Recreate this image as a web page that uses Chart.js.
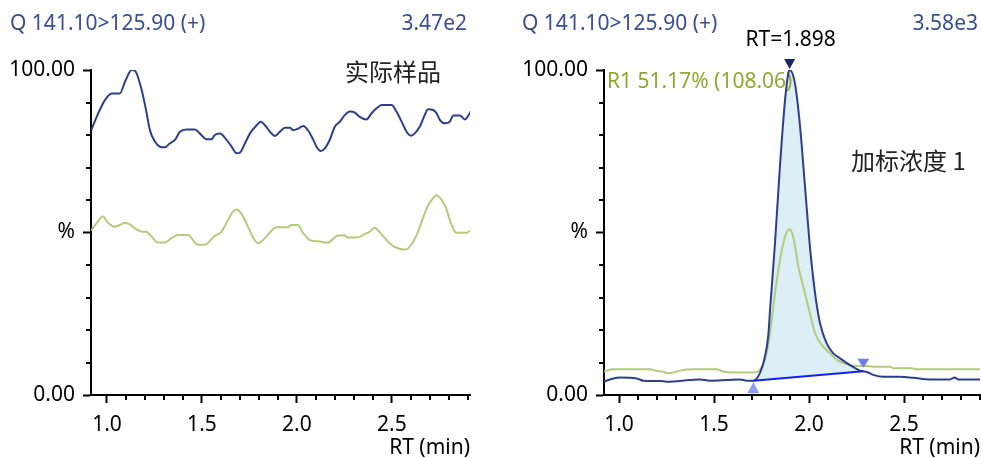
<!DOCTYPE html>
<html><head><meta charset="utf-8">
<script src="https://cdn.jsdelivr.net/npm/chart.js@4.4.1/dist/chart.umd.min.js"></script>
<style>
html,body{margin:0;padding:0;background:#fff;width:981px;height:458px;overflow:hidden;}
.t{position:absolute;white-space:nowrap;font-family:"Noto Sans",sans-serif;font-size:21px;line-height:26px;}
.hdr{color:#3c4d91;}
.cjk{font-family:"Noto Sans CJK SC","Noto Sans",sans-serif;font-size:24px;line-height:30px;color:#222;}
canvas{position:absolute;top:0;}
</style></head><body>
<canvas id="c1" width="490" height="458" style="left:0"></canvas>
<canvas id="c2" width="491" height="458" style="left:490px"></canvas>
<div class="t hdr" style="left:10px;top:9px">Q 141.10&gt;125.90 (+)</div>
<div class="t hdr" style="right:514px;top:9px">3.47e2</div>
<div class="t hdr" style="left:522px;top:9px">Q 141.10&gt;125.90 (+)</div>
<div class="t hdr" style="right:3px;top:9px">3.58e3</div>
<div class="t cjk" style="left:345px;top:56px">实际样品</div>
<div class="t cjk" style="left:851px;top:145px">加标浓度 1</div>
<script>
// ---------- data ----------
const X_MAJOR = [1.0, 1.5, 2.0, 2.5];
const X_MINOR = [1.1,1.2,1.3,1.4,1.6,1.7,1.8,1.9,2.1,2.2,2.3,2.4,2.6,2.7,2.8,2.9];
const Y_MAJOR = [0, 50, 100];
const Y_LABELS = ['0.00', '%', '100.00'];
const Y_MINOR = [10,20,30,40,60,70,80,90];

// left panel (实际样品)
const L_BLUE_X = [0.917,0.946,0.99,1.025,1.068,1.095,1.13,1.147,1.183,1.209,1.226,1.253,1.279,1.305,1.33,1.358,1.384,1.419,1.463,1.489,1.524,1.55,1.568,1.595,1.63,1.656,1.682,1.7,1.726,1.753,1.788,1.809,1.832,1.858,1.884,1.91,1.937,1.963,1.98,2.007,2.033,2.06,2.086,2.103,2.125,2.147,2.174,2.2,2.226,2.253,2.279,2.305,2.33,2.366,2.393,2.419,2.445,2.498,2.524,2.551,2.577,2.6,2.62,2.647,2.673,2.69,2.717,2.735,2.753,2.78,2.805,2.823,2.858,2.884,2.92];
const L_BLUE_Y = [81.5,85.6,90.8,92.8,92.8,96.4,100,99.8,93.8,86.7,81.5,77.9,76.4,76.2,77.4,78.5,81,81.7,81.7,80.5,78.7,78.7,80,80.5,78.5,76.4,74.4,74.6,77.4,80.5,83,84.1,83,81,79.7,81,82.2,82.2,81.5,82,82.8,81.3,78.5,76.4,75.1,75.9,78.7,82.6,84.1,86.2,87.2,86.9,85.6,84.8,86.7,88.2,89.2,89.2,87.2,84.1,81,79.8,80.5,82.6,86.2,87.9,87.7,86.7,84.6,83.6,84.1,86,86,84.8,87.7];
const L_GREEN_X = [0.917,0.944,0.979,1.005,1.04,1.067,1.093,1.12,1.146,1.18,1.207,1.233,1.268,1.303,1.338,1.374,1.426,1.479,1.514,1.567,1.602,1.637,1.663,1.68,1.707,1.742,1.777,1.798,1.83,1.856,1.891,1.953,1.97,2.005,2.032,2.075,2.111,2.163,2.216,2.251,2.268,2.321,2.356,2.382,2.409,2.444,2.488,2.514,2.558,2.575,2.61,2.637,2.663,2.689,2.716,2.733,2.76,2.786,2.808,2.839,2.891,2.918];
const L_GREEN_Y = [50.6,52.8,54.9,53,51.8,52.3,53,52.5,51.3,50.3,50.2,48.9,46.9,46.9,48.2,49.2,49.2,46.2,46.2,48.9,50.2,53.8,56.4,57.1,55.9,51.8,47.7,46.7,48.2,49.9,51.6,51.6,52.3,52.3,49.9,47.5,47.3,46.9,49.1,49.1,48.5,48.5,49.5,50.2,51.5,49.5,46.7,45.6,44.8,44.8,46.9,50.2,54.4,58.2,60.5,61.5,60.2,57.4,53.3,49.9,49.9,50.8];

// right panel (加标浓度 1)
const R_BLUE_X = [0.921,0.97,1.005,1.093,1.128,1.216,1.251,1.374,1.426,1.479,1.567,1.637,1.672,1.707,1.742,1.768,1.786,1.795,1.821,1.847,1.874,1.891,1.898,1.926,1.953,1.979,2.005,2.032,2.058,2.093,2.128,2.163,2.216,2.268,2.286,2.304,2.338,2.391,2.479,2.549,2.637,2.742,2.768,2.786,2.9];
const R_BLUE_Y = [4.1,5.1,5.4,5.1,4.4,4.3,4.1,4.6,4.8,4.4,4.6,4.8,4.4,4.4,6.8,11.8,18.5,26.2,46.7,70.3,90.8,99,100,95.9,82.6,64.1,45.6,31.3,22.1,15.9,12.8,11.3,9.2,7.5,7.3,7.1,6.2,5.6,5.6,5.3,4.8,4.8,5.4,4.8,4.8];
const R_GREEN_X = [0.921,0.97,1.163,1.198,1.233,1.251,1.286,1.321,1.391,1.514,1.549,1.602,1.707,1.742,1.768,1.795,1.821,1.847,1.874,1.896,1.917,1.944,1.97,2.005,2.032,2.067,2.111,2.146,2.198,2.251,2.304,2.356,2.426,2.444,2.54,2.567,2.9];
const R_GREEN_Y = [7.2,7.9,7.9,7.4,7.2,6.7,6.9,7.5,7.9,7.9,7.2,6.9,6.9,7.7,10.8,19,31.3,41.5,48.7,51,48.7,39.5,33.3,25.1,19,15.4,12.8,10.8,9.5,8.9,8.9,8.7,8.7,8.2,8.2,7.9,7.9];

// integration of the right peak
const PEAK_RT = 1.898;
const PEAK_TOP = 100;
const PEAK_START = {x: 1.707, y: 4.4};
const PEAK_END = {x: 2.286, y: 7.3};
const RT_LABEL = 'RT=1.898';
const R1_LABEL = 'R1 51.17% (108.06)';

// ---------- styles ----------
const BLUE = '#2d3f8c';
const GREEN = '#b5ca7c';
const FONT = {family: '"Noto Sans", sans-serif', size: 21};

function pts(xs, ys) { return xs.map((x, i) => ({x: x, y: ys[i]})); }

const minorTicks = {
  id: 'minorTicks',
  afterDraw(chart) {
    const {ctx} = chart; const x = chart.scales.x, y = chart.scales.y;
    ctx.save(); ctx.strokeStyle = '#000'; ctx.lineWidth = 2;
    for (const v of X_MINOR) {
      if (v < x.min || v > x.max + 1e-9) continue;
      const px = Math.round(x.getPixelForValue(v));
      ctx.beginPath(); ctx.moveTo(px, y.bottom); ctx.lineTo(px, y.bottom + 5); ctx.stroke();
    }
    for (const v of Y_MINOR) {
      const py = Math.round(y.getPixelForValue(v));
      ctx.beginPath(); ctx.moveTo(x.left, py); ctx.lineTo(x.left - 5, py); ctx.stroke();
    }
    ctx.restore();
  }
};

function tri(ctx, cx, tipY, baseY, half, color) {
  ctx.beginPath(); ctx.moveTo(cx, tipY); ctx.lineTo(cx - half, baseY); ctx.lineTo(cx + half, baseY); ctx.closePath();
  ctx.fillStyle = color; ctx.fill();
}

// R1 label drawn over the peak fill but beneath the traces
const peakLabel = {
  id: 'peakLabel',
  afterDatasetDraw(chart, args) {
    if (args.index !== 1) return;
    const {ctx} = chart; const y = chart.scales.y;
    const py = y.getPixelForValue(PEAK_TOP);
    ctx.save();
    ctx.font = '21px "Noto Sans", sans-serif';
    ctx.fillStyle = '#8ea832'; ctx.textAlign = 'left'; ctx.textBaseline = 'middle';
    ctx.fillText(R1_LABEL, chart.chartArea.left + 3, py + 12);
    ctx.restore();
  }
};

const peakMarks = {
  id: 'peakMarks',
  afterDatasetsDraw(chart) {
    const {ctx} = chart; const x = chart.scales.x, y = chart.scales.y;
    ctx.save();
    const px = x.getPixelForValue(PEAK_RT), py = y.getPixelForValue(PEAK_TOP);
    tri(ctx, px, py - 1, py - 11, 5.5, '#1b2a60');
    const sx = x.getPixelForValue(PEAK_START.x), sy = y.getPixelForValue(PEAK_START.y);
    tri(ctx, sx, sy + 1.5, sy + 12.5, 6, '#8d9cf5');
    const ex = x.getPixelForValue(PEAK_END.x), ey = y.getPixelForValue(PEAK_END.y);
    tri(ctx, ex, ey - 3.5, ey - 12.5, 6, '#6a7fe6');
    ctx.font = '21px "Noto Sans", sans-serif';
    ctx.fillStyle = '#000'; ctx.textAlign = 'center'; ctx.textBaseline = 'middle';
    ctx.fillText(RT_LABEL, px + 1, py - 30);
    ctx.restore();
  }
};

function scales(xmin, xmax, yWidth) {
  return {
    x: {
      type: 'linear', min: xmin, max: xmax,
      afterBuildTicks: s => { s.ticks = X_MAJOR.map(v => ({value: v})); },
      afterFit: s => { s.height = 63; },
      ticks: {callback: v => v.toFixed(1), maxRotation: 0, autoSkip: false, padding: 9, color: '#000', font: FONT},
      grid: {drawOnChartArea: false, tickLength: 8, tickWidth: 2, tickColor: '#000'},
      border: {display: true, color: '#000', width: 2},
      title: {display: true, text: 'RT (min)', align: 'end', color: '#000', font: FONT, padding: {top: 0, bottom: -3}}
    },
    y: {
      type: 'linear', min: 0, max: 100,
      afterBuildTicks: s => { s.ticks = Y_MAJOR.map(v => ({value: v})); },
      afterFit: s => { s.width = yWidth; },
      ticks: {callback: (v, i) => Y_LABELS[i], padding: 8, color: '#000', font: FONT},
      grid: {drawOnChartArea: false, tickLength: 8, tickWidth: 2, tickColor: '#000'},
      border: {display: true, color: '#000', width: 2}
    }
  };
}

function lineDs(data, color, order) {
  return {data: data, borderColor: color, borderWidth: 2, pointRadius: 0, fill: false,
          cubicInterpolationMode: 'monotone', order: order};
}

const common = {
  responsive: false, animation: false, parsing: true,
  plugins: {legend: {display: false}, tooltip: {enabled: false}, title: {display: false}}
};

new Chart(document.getElementById('c1'), {
  type: 'line',
  data: {datasets: [
    lineDs(pts(L_GREEN_X, L_GREEN_Y), GREEN, 2),
    lineDs(pts(L_BLUE_X, L_BLUE_Y), BLUE, 1)
  ]},
  options: Object.assign({}, common, {
    layout: {padding: {top: 70, left: 0, right: 20, bottom: 0}},
    scales: scales(0.916, 2.911, 91)
  }),
  plugins: [minorTicks]
});

const rBlue = pts(R_BLUE_X, R_BLUE_Y);
const peakArea = rBlue.filter(p => p.x >= PEAK_START.x && p.x <= PEAK_END.x);

new Chart(document.getElementById('c2'), {
  type: 'line',
  data: {datasets: [
    {data: [PEAK_START, PEAK_END], borderColor: '#1422f0', borderWidth: 2, pointRadius: 0, fill: false, order: 0},
    {data: peakArea, borderWidth: 0, borderColor: 'rgba(0,0,0,0)', backgroundColor: '#dceef6', pointRadius: 0,
     cubicInterpolationMode: 'monotone', fill: 0, order: 4},
    lineDs(pts(R_GREEN_X, R_GREEN_Y), GREEN, 2),
    lineDs(rBlue, BLUE, 1)
  ]},
  options: Object.assign({}, common, {
    layout: {padding: {top: 70, left: 0, right: 1, bottom: 0}},
    scales: scales(0.921, 2.9, 114)
  }),
  plugins: [minorTicks, peakLabel, peakMarks]
});
</script>
</body></html>
